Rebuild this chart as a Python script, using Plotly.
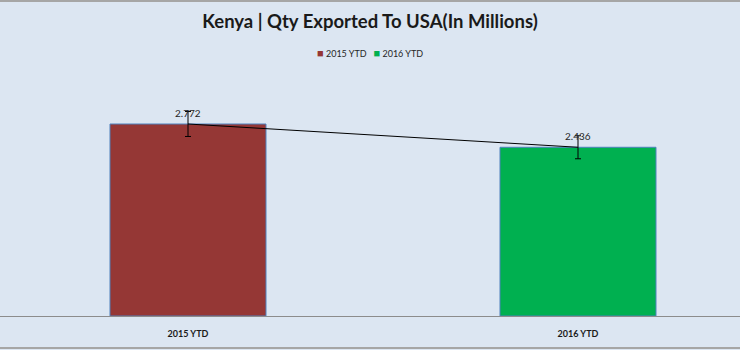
import plotly.graph_objects as go

# Quantity exported (millions)
categories = ["2015 YTD", "2016 YTD"]
values = [2.772, 2.436]
errors = [0.18, 0.166]
bar_colors = ["#953735", "#00B050"]

BG = "#DCE6F2"
FONT = "Lato, Arial"

fig = go.Figure()

for cat, val, col in zip(categories, values, bar_colors):
    fig.add_trace(go.Bar(
        x=[cat], y=[val], name=cat,
        marker=dict(color=col, line=dict(color="#4F81BD", width=1)),
        width=0.4, showlegend=False,
    ))

# Trend line through bar tops with error bars
fig.add_trace(go.Scatter(
    x=categories, y=values, mode="lines",
    line=dict(color="#000000", width=1),
    error_y=dict(type="data", array=errors, visible=True,
                 color="#000000", thickness=1, width=3),
    showlegend=False, hoverinfo="skip",
))

plot_top = 60
plot_bot = 316
scale = values[0] / (plot_bot - 124)  # units per pixel
ymax = (plot_bot - plot_top) * scale


def ypaper(py):
    return (plot_bot - py) / (plot_bot - plot_top)


annotations = []
# Value labels above each bar
for cat, val in zip(categories, values):
    annotations.append(dict(
        x=cat, y=val, xref="x", yref="y", text=f"{val:.3f}",
        showarrow=False, yshift=11,
        font=dict(family=FONT, size=10, color="#262626"),
    ))

# Compact legend line
legend_text = "&nbsp;&nbsp;&nbsp;".join(
    f"<span style='color:{c};font-size:11px'>■</span> {n}"
    for n, c in zip(categories, bar_colors)
)
annotations.append(dict(
    x=0.5, y=ypaper(52), xref="paper", yref="paper", text=legend_text,
    showarrow=False, xanchor="center", yanchor="middle",
    font=dict(family=FONT, size=9, color="#262626"),
))

fig.update_layout(
    width=740, height=350,
    margin=dict(l=0, r=0, t=plot_top, b=350 - plot_bot, pad=0),
    paper_bgcolor=BG, plot_bgcolor=BG,
    barmode="overlay",
    showlegend=False,
    title=dict(
        text="<b>Kenya | Qty Exported To USA(In Millions)</b>",
        x=0.5, xanchor="center", y=1 - 22 / 350, yanchor="middle",
        font=dict(family=FONT, size=18.5, color="#1a1a1a"),
    ),
    xaxis=dict(
        range=[-188 / 390, 1 + (740 - 578) / 390],
        showline=True, linecolor="#8C8C8C", linewidth=1,
        showgrid=False, zeroline=False, ticks="",
        ticklabelstandoff=9,
        tickfont=dict(family=FONT, size=9, color="#1a1a1a", weight="bold"),
        fixedrange=True,
    ),
    yaxis=dict(
        range=[0, ymax], visible=False, showgrid=False, fixedrange=True,
    ),
    annotations=annotations,
    shapes=[
        dict(type="line", xref="paper", yref="paper", x0=0, x1=1,
             y0=ypaper(1), y1=ypaper(1), line=dict(color="#A6A6A6", width=2)),
        dict(type="line", xref="paper", yref="paper", x0=0, x1=1,
             y0=ypaper(348), y1=ypaper(348), line=dict(color="#A6A6A6", width=2)),
    ],
)

fig.write_html("out.html")
